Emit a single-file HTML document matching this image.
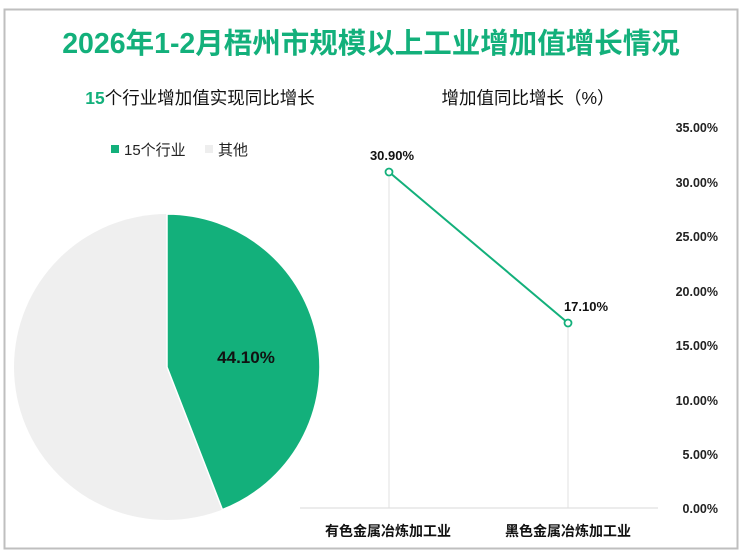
<!DOCTYPE html>
<html><head><meta charset="utf-8"><style>
body{margin:0;width:743px;height:555px;background:#fff;overflow:hidden;font-family:"Liberation Sans","Noto Sans CJK SC",sans-serif}
</style></head><body>
<svg width="743" height="555" xmlns="http://www.w3.org/2000/svg" style="position:absolute;left:0;top:0;font-family:'Liberation Sans','Noto Sans CJK SC',sans-serif">
<rect x="4.5" y="9.5" width="733" height="539" fill="#fff" stroke="#bfbfbf" stroke-width="2"/>
<text x="371" y="53" text-anchor="middle" font-size="28.5" font-weight="bold" fill="#13b07b">2026年1-2月梧州市规模以上工业增加值增长情况</text>
<text x="200" y="104" text-anchor="middle" font-size="17.5" fill="#111"><tspan fill="#13b07b" font-weight="bold">15</tspan>个行业增加值实现同比增长</text>
<rect x="111" y="145" width="8" height="8" fill="#13b07b"/>
<text x="124" y="155" font-size="15" fill="#222">15个行业</text>
<rect x="205" y="145" width="8" height="8" fill="#eeeeee"/>
<text x="218" y="155" font-size="15" fill="#222">其他</text>
<circle cx="167" cy="367" r="153" fill="#efefef"/>
<path d="M167,367 L167,214 A153,153 0 0 1 222.4,509.6 Z" fill="#13b07b" stroke="#fff" stroke-width="1.5"/>
<text x="246" y="363" text-anchor="middle" font-size="17" font-weight="bold" fill="#111">44.10%</text>
<text x="528" y="104" text-anchor="middle" font-size="17.5" fill="#111">增加值同比增长（%）</text>
<g font-size="12.5" font-weight="bold" fill="#222" text-anchor="end">
<text x="718" y="132">35.00%</text><text x="718" y="187">30.00%</text><text x="718" y="241">25.00%</text><text x="718" y="296">20.00%</text><text x="718" y="350">15.00%</text><text x="718" y="405">10.00%</text><text x="718" y="459">5.00%</text><text x="718" y="513">0.00%</text>
</g>
<line x1="300" y1="508" x2="658" y2="508" stroke="#d9d9d9"/>
<line x1="389" y1="172" x2="389" y2="508" stroke="#e0e0e0"/>
<line x1="568" y1="323" x2="568" y2="508" stroke="#e0e0e0"/>
<line x1="389" y1="172" x2="568" y2="323" stroke="#13b07b" stroke-width="2"/>
<circle cx="389" cy="172" r="3.5" fill="#fff" stroke="#13b07b" stroke-width="1.8"/>
<circle cx="568" cy="323" r="3.5" fill="#fff" stroke="#13b07b" stroke-width="1.8"/>
<text x="392" y="160" text-anchor="middle" font-size="13" font-weight="bold" fill="#111">30.90%</text>
<text x="586" y="311" text-anchor="middle" font-size="13" font-weight="bold" fill="#111">17.10%</text>
<text x="388" y="536" text-anchor="middle" font-size="14" font-weight="bold" fill="#111">有色金属冶炼加工业</text>
<text x="568" y="536" text-anchor="middle" font-size="14" font-weight="bold" fill="#111">黑色金属冶炼加工业</text>
</svg>
</body></html>
